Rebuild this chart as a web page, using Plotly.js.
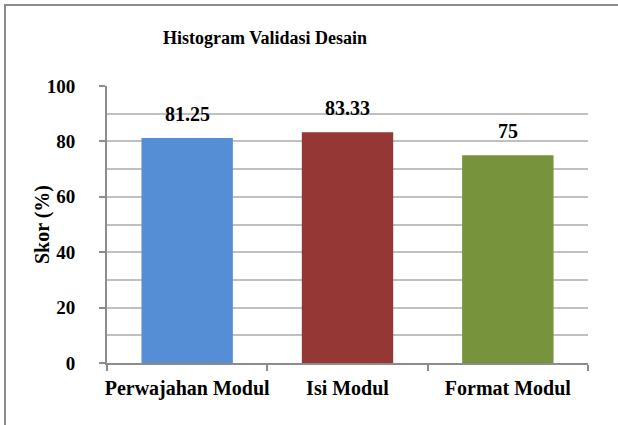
<!DOCTYPE html>
<html>
<head>
<meta charset="utf-8">
<script src="https://cdn.plot.ly/plotly-3.0.1.min.js"></script>
<style>
  html, body { margin: 0; padding: 0; background: #fff; overflow: hidden; width: 618px; height: 425px; }
  #wrap { position: relative; width: 618px; height: 425px; overflow: hidden; }
  #chart { width: 618px; height: 425px; }
  #mask { position: absolute; left: 600px; top: 8px; width: 18px; height: 417px; background: #fff; z-index: 10; }
</style>
</head>
<body>
<div id="wrap">
  <div id="chart"></div>
  <div id="mask"></div>
</div>
<script>
const categories = ["Perwajahan Modul", "Isi Modul", "Format Modul"];
const scores = [81.25, 83.33, 75];
const scoreLabels = ["81.25", "83.33", "75"];
const barColors = ["#558ED5", "#953735", "#77933C"];
const yTicks = [0, 20, 40, 60, 80, 100];

const font = "Liberation Serif, serif";

const trace = {
  type: "bar",
  x: categories,
  y: scores,
  marker: { color: barColors },
  hoverinfo: "none"
};

const annotations = categories.map((c, i) => ({
  x: c, y: scores[i], xref: "x", yref: "y",
  text: "<b>" + scoreLabels[i] + "</b>",
  showarrow: false, yanchor: "middle", yshift: 24,
  font: { family: font, size: 20, color: "#000" }
}));

const L = 107, R = 588, T = 86, B = 363;
const px2x = p => (p - L) / (R - L);
const px2y = p => (B - p) / (B - T);

const shapes = [
  { type: "line", xref: "paper", yref: "paper", x0: px2x(5), x1: px2x(5), y0: px2y(430), y1: px2y(4),
    line: { color: "#8c8c8c", width: 2 } },
  { type: "line", xref: "paper", yref: "paper", x0: px2x(4), x1: px2x(618), y0: px2y(5), y1: px2y(5),
    line: { color: "#8c8c8c", width: 2 } }
];

const layout = {
  width: 618, height: 425,
  margin: { l: L, r: 618 - R, t: T, b: 425 - B },
  paper_bgcolor: "#fff", plot_bgcolor: "#fff",
  showlegend: false,
  bargap: 0.43,
  font: { family: font },
  title: {
    text: "<b>Histogram Validasi Desain</b>",
    font: { family: font, size: 18, color: "#000" },
    xref: "container", yref: "container",
    x: 265 / 618, xanchor: "center",
    y: 1 - 38 / 425, yanchor: "middle"
  },
  xaxis: {
    type: "category",
    showline: true, linecolor: "#8c8c8c", linewidth: 2,
    ticks: "outside", tickson: "boundaries", ticklen: 6, tickcolor: "#8c8c8c", tickwidth: 2,
    showgrid: false,
    tickangle: 0,
    tickfont: { family: font, size: 20, color: "#000" },
    tickprefix: "<b>", ticksuffix: "</b>",
    ticklabelstandoff: 6
  },
  yaxis: {
    range: [0, 100],
    tickvals: yTicks,
    ticktext: yTicks.map(v => "<b>" + v + "</b>"),
    showline: true, linecolor: "#8c8c8c", linewidth: 2,
    ticks: "outside", ticklen: 6, tickcolor: "#8c8c8c", tickwidth: 2,
    showgrid: true, gridcolor: "#c0c0c0", gridwidth: 2,
    minor: { dtick: 10, showgrid: true, gridcolor: "#c0c0c0", gridwidth: 2, ticks: "" },
    zeroline: false,
    tickfont: { family: font, size: 19, color: "#000" },
    ticklabelstandoff: 20,
    title: {
      text: "<b>Skor (%)</b>",
      font: { family: font, size: 20, color: "#000" },
      standoff: -2
    }
  },
  shapes: shapes,
  annotations: annotations
};

Plotly.newPlot("chart", [trace], layout, { displayModeBar: false, staticPlot: true });
</script>
</body>
</html>
